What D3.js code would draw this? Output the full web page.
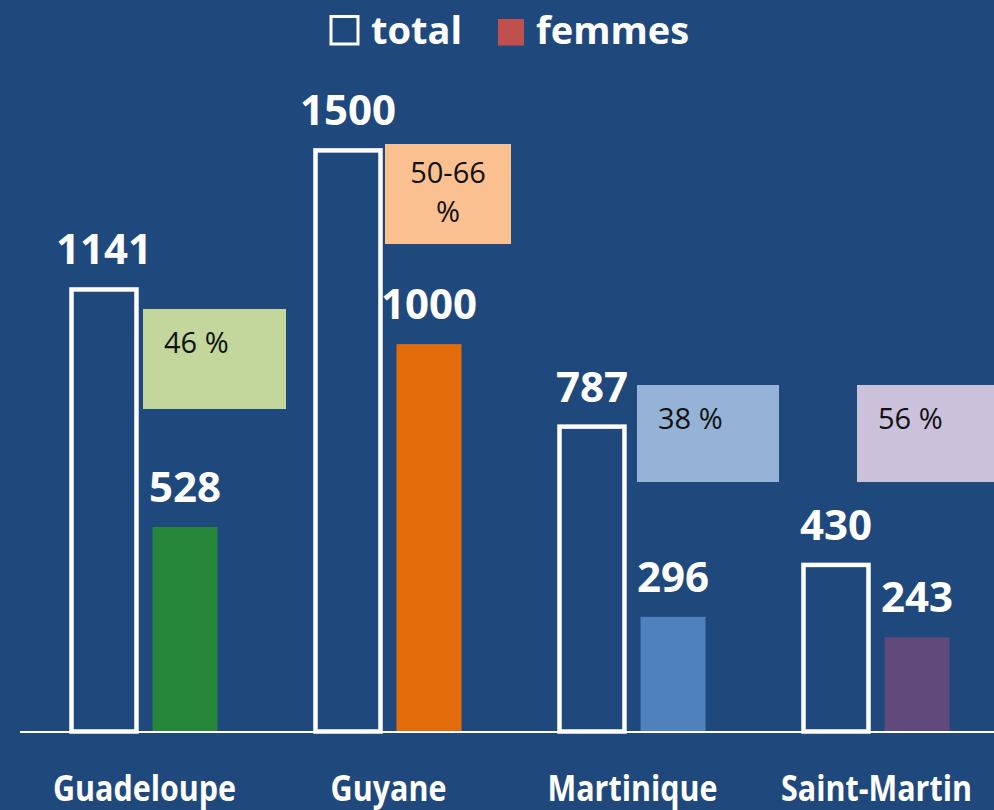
<!DOCTYPE html>
<html>
<head>
<meta charset="utf-8">
<script src="https://cdn.jsdelivr.net/npm/d3@7"></script>
<style>
  html, body { margin: 0; padding: 0; background: #1F497D; }
  svg { display: block; }
</style>
</head>
<body>
<div id="chart"></div>
<script>
// Data
const regions = ["Guadeloupe", "Guyane", "Martinique", "Saint-Martin"];
const totals = [1141, 1500, 787, 430];
const femmes = [528, 1000, 296, 243];
const femmesColors = ["#26873A", "#E36C0A", "#4F81BD", "#604A7B"];
const shareLabels = [["46 %"], ["50-66", "%"], ["38 %"], ["56 %"]];
const shareColors = ["#C3D69B", "#FAC090", "#95B3D7", "#CCC1DA"];
const seriesNames = ["total", "femmes"];

// Layout of the annotation boxes (pixels)
const noteBoxes = [
  { x: 143, y: 309, w: 143, h: 100, align: "left" },
  { x: 385, y: 144, w: 126, h: 100, align: "middle" },
  { x: 637, y: 385, w: 142, h: 97, align: "left" },
  { x: 857, y: 385, w: 140, h: 97, align: "left" }
];

const width = 994, height = 810;
const bg = "#1F497D";

let svg = d3.select("#chart")
  .append("svg")
  .attr("width", width)
  .attr("height", height)
  .style("background-color", bg);

let x = d3.scaleBand().domain(regions).range([22.5, 998.5]);
let x1 = d3.scaleBand().domain(seriesNames).range([49, 195]).paddingInner(0.198);
let y = d3.scaleLinear().domain([0, 1500]).range([731.5, 150.4]);

let data = regions.map(function(r, i) {
  return { region: r, total: totals[i], femmes: femmes[i], color: femmesColors[i] };
});

// annotation boxes (behind bars)
let notes = svg.append("g").selectAll("g")
  .data(noteBoxes)
  .enter().append("g");

notes.append("rect")
  .attr("x", d => d.x)
  .attr("y", d => d.y)
  .attr("width", d => d.w)
  .attr("height", d => d.h)
  .attr("fill", (d, i) => shareColors[i]);

notes.each(function(d, i) {
  let g = d3.select(this);
  shareLabels[i].forEach(function(line, k) {
    g.append("text")
      .attr("x", d.align === "middle" ? d.x + d.w / 2 : d.x + 21)
      .attr("y", d.y + (d.align === "middle" ? 38.5 : 43.5) + k * 39)
      .attr("text-anchor", d.align === "middle" ? "middle" : "start")
      .attr("font-family", "Open Sans, sans-serif")
      .attr("font-size", 29)
      .attr("fill", "#111")
      .text(line);
  });
});

// total bars (outlined)
svg.append("g").selectAll("rect")
  .data(data)
  .enter().append("rect")
    .attr("x", d => x(d.region) + x1("total"))
    .attr("y", d => y(d.total))
    .attr("width", x1.bandwidth())
    .attr("height", d => y(0) - y(d.total))
    .attr("fill", "none")
    .attr("stroke", "#fff")
    .attr("stroke-width", 4.5);

// femmes bars (filled)
svg.append("g").selectAll("rect")
  .data(data)
  .enter().append("rect")
    .attr("x", d => x(d.region) + x1("femmes"))
    .attr("y", d => y(d.femmes))
    .attr("width", x1.bandwidth())
    .attr("height", d => y(0) - y(d.femmes))
    .attr("fill", d => d.color);

// baseline
svg.append("line")
  .attr("x1", 20).attr("x2", width)
  .attr("y1", y(0) + 0.5).attr("y2", y(0) + 0.5)
  .attr("stroke", "#fff")
  .attr("stroke-width", 2);

// value labels
let labels = svg.append("g")
  .attr("font-family", "Open Sans, sans-serif")
  .attr("font-weight", "bold")
  .attr("font-size", 42)
  .attr("fill", "#fff")
  .attr("text-anchor", "middle");

data.forEach(function(d) {
  labels.append("text")
    .attr("x", x(d.region) + x1("total") + x1.bandwidth() / 2)
    .attr("y", y(d.total) - 25)
    .text(d.total);
  labels.append("text")
    .attr("x", x(d.region) + x1("femmes") + x1.bandwidth() / 2)
    .attr("y", y(d.femmes) - 25)
    .text(d.femmes);
});

// category labels via bottom axis
let axis = svg.append("g")
  .attr("transform", "translate(0," + y(0) + ")")
  .call(d3.axisBottom(x).tickSize(0).tickPadding(0));
axis.select(".domain").remove();
axis.selectAll("text")
  .attr("y", 69)
  .attr("dy", 0)
  .attr("font-family", "Open Sans, sans-serif")
  .attr("font-weight", "bold")
  .attr("font-size", 35)
  .attr("fill", "#fff")
  .each(function() {
    let t = d3.select(this);
    let w = this.getComputedTextLength();
    t.attr("textLength", w * 0.87).attr("lengthAdjust", "spacingAndGlyphs");
  });

// legend
let legend = svg.append("g")
  .attr("font-family", "Open Sans, sans-serif")
  .attr("font-weight", "bold")
  .attr("font-size", 38)
  .attr("fill", "#fff");

legend.append("rect")
  .attr("x", 331).attr("y", 16.5)
  .attr("width", 27).attr("height", 27.5)
  .attr("fill", "none")
  .attr("stroke", "#fff")
  .attr("stroke-width", 3);
legend.append("text").attr("x", 371).attr("y", 44).text(seriesNames[0]);

legend.append("rect")
  .attr("x", 498).attr("y", 19)
  .attr("width", 26).attr("height", 26.5)
  .attr("fill", "#C0504D");
legend.append("text").attr("x", 536).attr("y", 44).text(seriesNames[1]);
</script>
</body>
</html>
